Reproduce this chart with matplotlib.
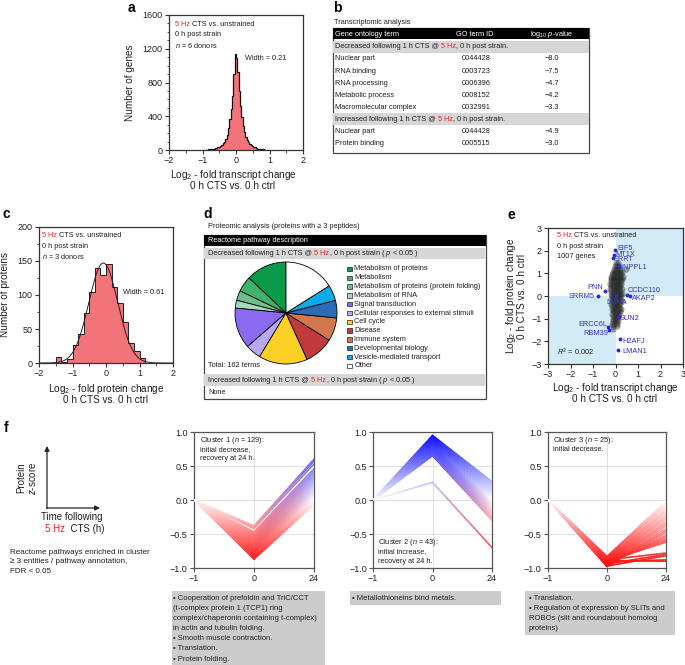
import numpy as np
import matplotlib.pyplot as plt
from matplotlib.collections import LineCollection
from matplotlib.patches import Rectangle
from matplotlib.ticker import MultipleLocator

plt.rcParams['font.family'] = ['Liberation Sans', 'DejaVu Sans']
plt.rcParams['mathtext.fontset'] = 'custom'
plt.rcParams['mathtext.rm'] = 'Liberation Sans'
plt.rcParams['mathtext.it'] = 'Liberation Sans:italic'
plt.rcParams['mathtext.bf'] = 'Liberation Sans:bold'

# ---------------- data ----------------
# a: transcript fold change histogram (bins of 0.04 from -1 to 1)
a_counts = [3, 3, 4, 5, 6, 7, 9, 11, 14, 18,
            24, 32, 40, 50, 62, 78, 100, 130, 180, 260,
            370, 490, 640, 900, 1140, 1090, 920, 700, 520, 390,
            290, 210, 160, 120, 95, 75, 60, 48, 38, 30,
            22, 17, 13, 10, 8, 6, 5, 4, 3, 3]

# b: GO terms
go_terms_dec = ['Nuclear part', 'RNA binding', 'RNA processing', 'Metabolic process', 'Macromolecular complex']
go_ids_dec = ['0044428', '0003723', '0006396', '0008152', '0032991']
go_p_dec = [-8.0, -7.5, -4.7, -4.2, -3.3]
go_terms_inc = ['Nuclear part', 'Protein binding']
go_ids_inc = ['0044428', '0005515']
go_p_inc = [-4.9, -3.0]

# c: protein fold change histogram (bins of 1/6 from -1.5)
c_counts = [9, 2, 6, 26, 42, 73, 105, 139, 129, 146, 112, 88, 60, 30, 18, 7]
c_fit_amp = 147
c_fit_mu = -0.08
c_fit_width = 0.61

# d: reactome pie
pie_labels = ['Metabolism of proteins', 'Metabolism', 'Metabolism of proteins (protein folding)',
              'Metabolism of RNA', 'Signal transduction', 'Cellular responses to external stimuli',
              'Cell cycle', 'Disease', 'Immune system', 'Developmental biology',
              'Vesicle-mediated transport', 'Other']
pie_counts = [21, 8, 5, 4, 21, 8, 25, 15, 12, 9, 8, 26]
pie_colors = ['#0a9a4a', '#3db36c', '#6cc08c', '#a3dbb8', '#8a6af0', '#b8a8f2',
              '#fdd026', '#c23a3b', '#d2784c', '#2a6cb5', '#0caae6', '#ffffff']

# e: protein vs transcript scatter (cloud of genes, rows by protein change)
cloud_row_y = [1.45, 1.32, 1.20, 1.08, 0.97, 0.86, 0.75, 0.64, 0.53, 0.42, 0.31, 0.20, 0.09,
               -0.02, -0.13, -0.24, -0.35, -0.46, -0.57, -0.68, -0.79, -0.90, -1.01, -1.12,
               -1.23, -1.34, -1.45]
cloud_row_x = [[0.02, 0.10],
               [-0.04, 0.06, 0.15],
               [-0.08, 0.03, 0.12, 0.22, 0.46],
               [-0.12, -0.02, 0.08, 0.18, 0.30],
               [-0.16, -0.06, 0.04, 0.14, 0.24],
               [-0.18, -0.09, 0.01, 0.11, 0.21, 0.32],
               [-0.22, -0.12, -0.02, 0.08, 0.18, 0.27],
               [-0.19, -0.08, 0.03, 0.13, 0.23],
               [-0.24, -0.14, -0.04, 0.06, 0.16, 0.26],
               [-0.20, -0.10, 0.00, 0.10, 0.20],
               [-0.23, -0.13, -0.03, 0.07, 0.17, 0.28],
               [-0.18, -0.08, 0.02, 0.12, 0.22],
               [-0.21, -0.11, -0.01, 0.09, 0.19, 0.30],
               [-0.17, -0.06, 0.05, 0.15, 0.25],
               [-0.20, -0.10, 0.00, 0.10, 0.20],
               [-0.15, -0.05, 0.06, 0.16, 0.27],
               [-0.18, -0.08, 0.02, 0.12, 0.22],
               [-0.14, -0.04, 0.07, 0.17],
               [-0.16, -0.06, 0.04, 0.14, 0.24],
               [-0.12, -0.02, 0.09, 0.19],
               [-0.14, -0.04, 0.06, 0.16],
               [-0.10, 0.00, 0.10],
               [-0.13, -0.03, 0.07],
               [-0.09, 0.02, 0.13],
               [-0.16, -0.05, 0.06],
               [-0.12, 0.08],
               [-0.10]]
lab_genes = ['EIF5', 'MT1X', 'SRRT', 'INPPL1', 'PNN', 'SRRM5', 'CCDC110', 'AKAP2', 'LMNA',
             'SUN2', 'ERCC6L', 'RBM39', 'H2AFJ', 'LMAN1']
lab_x = [-0.02, -0.08, -0.12, 0.16, -0.48, -0.79, 0.52, 0.64, 0.04, 0.14, -0.32, -0.28, 0.20, 0.10]
lab_y = [2.03, 1.81, 1.66, 1.34, 0.22, 0.00, 0.04, -0.02, 0.00, -0.91, -1.35, -1.50, -1.91, -2.37]

# f: z-score clusters, values at 0 h and 24 h (all start at 0 at -1 h)
time_labels = ['\u22121', '0', '24']
c1_v0 = [-0.38, -0.40, -0.42, -0.47, -0.48, -0.49, -0.50, -0.51, -0.52, -0.53, -0.54, -0.55,
         -0.56, -0.57, -0.58, -0.59, -0.60, -0.61, -0.62, -0.63, -0.64, -0.65, -0.66, -0.67,
         -0.68, -0.69, -0.70, -0.71, -0.72, -0.73, -0.74, -0.75, -0.76, -0.77, -0.78, -0.79,
         -0.80, -0.81, -0.82, -0.83, -0.84, -0.85, -0.86, -0.87]
c1_v24 = [0.60, 0.57, 0.53, 0.46, 0.45, 0.43, 0.42, 0.40, 0.39, 0.37, 0.36, 0.34,
          0.33, 0.31, 0.30, 0.28, 0.27, 0.25, 0.24, 0.22, 0.21, 0.19, 0.18, 0.16,
          0.15, 0.13, 0.12, 0.10, 0.09, 0.07, 0.06, 0.05, 0.04, 0.02, 0.01, 0.00,
          -0.01, -0.02, -0.03, -0.04, -0.05, -0.06, -0.06, -0.07]
c2_v0 = [0.95, 0.94, 0.93, 0.92, 0.91, 0.90, 0.89, 0.88, 0.87, 0.86, 0.85, 0.84, 0.83, 0.82,
         0.81, 0.80, 0.79, 0.78, 0.77, 0.76, 0.75, 0.74, 0.73, 0.72, 0.71, 0.70, 0.69, 0.68,
         0.67, 0.66, 0.65, 0.26]
c2_v24 = [0.27, 0.25, 0.23, 0.21, 0.19, 0.17, 0.15, 0.13, 0.11, 0.09, 0.07, 0.05, 0.03, 0.01,
          -0.01, -0.03, -0.05, -0.07, -0.09, -0.11, -0.13, -0.15, -0.17, -0.19, -0.21, -0.22,
          -0.24, -0.25, -0.27, -0.28, -0.30, -0.70]
c3_v0 = [-0.83, -0.85, -0.86, -0.88, -0.89, -0.90, -0.91, -0.92, -0.93, -0.94, -0.95, -0.96,
         -0.97, -0.98, -0.96, -0.95, -0.93, -0.92, -0.90, -0.88, -0.94, -0.97, -0.91, -0.89, -0.86]
c3_v24 = [-0.02, -0.05, -0.08, -0.12, -0.15, -0.18, -0.22, -0.25, -0.28, -0.32, -0.35, -0.38,
          -0.42, -0.45, -0.48, -0.52, -0.55, -0.58, -0.62, -0.78, -0.80, -0.82, -0.88, -0.90, -0.60]

c1_paths = ['\u2022 Cooperation of prefoldin and TriC/CCT', '(t-complex protein 1 (TCP1) ring',
            'complex/chaperonin containing t-complex)', 'in actin and tubulin folding.',
            '\u2022 Smooth muscle contraction.', '\u2022 Translation.', '\u2022 Protein folding.']
c2_paths = ['\u2022 Metallothioneins bind metals.']
c3_paths = ['\u2022 Translation.', '\u2022 Regulation of expression by SLITs and',
            'ROBOs (slit and roundabout homolog', 'proteins)']

# ---------------- figure ----------------
W, H = 685, 665
DARK = '#231f20'
HZ = '#ec2227'
HIST = '#f2737a'
LBLUE = '#d3ebf7'
GRAY = '#d6d6d6'

fig = plt.figure(figsize=(W / 100, H / 100), dpi=100)
cv = fig.add_axes([0, 0, 1, 1])
cv.set_xlim(0, W)
cv.set_ylim(H, 0)
cv.axis('off')
cv.set_zorder(10)
cv.patch.set_visible(False)


def px_axes(x0, y0, x1, y1):
    return fig.add_axes([x0 / W, 1 - y1 / H, (x1 - x0) / W, (y1 - y0) / H])


def style(ax, spine='#333333'):
    for s in ax.spines.values():
        s.set_linewidth(0.9)
        s.set_color(spine)
    ax.tick_params(direction='out', length=3, width=0.8, labelsize=6.5, pad=1.5,
                   color=spine, labelcolor=DARK)
    ax.tick_params(which='minor', direction='out', length=1.8, width=0.6, color=spine)


def txt(x, y, s, fs=5.3, **kw):
    kw.setdefault('va', 'center')
    kw.setdefault('color', DARK)
    return cv.text(x, y, s, fontsize=fs, **kw)


def rich(x, y, parts, fs=5.3):
    prev = cv.text(x, y, parts[0][0], color=parts[0][1], fontsize=fs, va='center')
    for s, c in parts[1:]:
        prev = cv.annotate(s, xy=(1, 0.5), xycoords=prev, color=c, fontsize=fs,
                           va='center', ha='left')
    return prev


def rect(x0, y0, x1, y1, **kw):
    cv.add_patch(Rectangle((x0, y0), x1 - x0, y1 - y0, **kw))


def minus(v):
    return f'{v:.1f}'.replace('-', '\u2212')


# panel letters
for letter, x, y in [('a', 128, 8), ('b', 333, 8), ('c', 3, 214), ('d', 203, 214),
                     ('e', 508, 215), ('f', 4, 428)]:
    txt(x, y, letter, fs=10, weight='bold', color='black')

# ---------------- a ----------------
ax = px_axes(169, 15, 303, 150)
edges = np.linspace(-1, 1, len(a_counts) + 1)
ax.stairs(a_counts, edges, fill=True, color=HIST, lw=0)
ax.stairs(a_counts, edges, color='#111111', lw=0.9)
ax.set_xlim(-2, 2)
ax.set_ylim(0, 1600)
ax.set_xticks([-2, -1, 0, 1, 2])
ax.set_yticks([0, 400, 800, 1200, 1600])
ax.xaxis.set_minor_locator(MultipleLocator(0.5))
ax.yaxis.set_minor_locator(MultipleLocator(100))
style(ax)
rich(175, 24, [('5 Hz', HZ), (' CTS vs. unstrained', DARK)])
txt(175, 34.5, '0 h post strain')
txt(175, 45, '$n$ = 6 donors')
txt(245, 58, 'Width = 0.21')
txt(130, 83, 'Number of genes', fs=7.2, rotation=90, ha='center')
txt(233, 175, 'Log$_2$ - fold transcript change', fs=7.2, ha='center')
txt(233, 186, '0 h CTS vs. 0 h ctrl', fs=7.2, ha='center')

# ---------------- b ----------------
txt(334, 22.5, 'Transcriptomic analysis')
rect(333, 28.3, 589.3, 153.3, facecolor='none', edgecolor='#444444', lw=0.9)
rect(333, 28.3, 589.3, 39.5, facecolor='black', lw=0)
txt(335.5, 34, 'Gene ontology term', color='white')
txt(456, 34, 'GO term ID', color='white')
txt(530, 34, 'log$_{10}$ $p$-value', color='white')
for y, word in [(46.7, 'Decreased'), (119.3, 'Increased')]:
    rect(333.5, y - 6, 588.8, y + 6, facecolor=GRAY, lw=0)
    rich(335.5, y, [(word + ' following 1 h CTS @ ', DARK), ('5 Hz', HZ),
                    (', 0 h post strain.', DARK)])
row_y = 59
for term, gid, p in zip(go_terms_dec, go_ids_dec, go_p_dec):
    txt(335.5, row_y, term)
    txt(461.5, row_y, gid)
    txt(559.5, row_y, minus(p), ha='right')
    row_y += 12.1
row_y = 131.7
for term, gid, p in zip(go_terms_inc, go_ids_inc, go_p_inc):
    txt(335.5, row_y, term)
    txt(461.5, row_y, gid)
    txt(559.5, row_y, minus(p), ha='right')
    row_y += 12.1

# ---------------- c ----------------
ax = px_axes(39, 227, 173, 363)
edges = np.linspace(-1.5, -1.5 + len(c_counts) / 6, len(c_counts) + 1)
ax.stairs(c_counts, edges, fill=True, color=HIST, lw=0)
ax.stairs(c_counts, edges, color='#222222', lw=0.7)
xf = np.linspace(-2, 2, 400)
ax.plot(xf, c_fit_amp * np.exp(-((xf - c_fit_mu) / c_fit_width) ** 2), color='#222222', lw=0.7)
ax.set_xlim(-2, 2)
ax.set_ylim(0, 200)
ax.set_xticks([-2, -1, 0, 1, 2])
ax.set_yticks([0, 50, 100, 150, 200])
ax.xaxis.set_minor_locator(MultipleLocator(0.5))
ax.yaxis.set_minor_locator(MultipleLocator(25))
style(ax)
rich(42.5, 235.3, [('5 Hz', HZ), (' CTS vs. unstrained', DARK)])
txt(42.5, 246, '0 h post strain')
txt(42.5, 256.7, '$n$ = 3 donors')
txt(123, 293, 'Width = 0.61')
txt(5, 295, 'Number of proteins', fs=7.2, rotation=90, ha='center')
txt(106, 389, 'Log$_2$ - fold protein change', fs=7.2, ha='center')
txt(106, 400, '0 h CTS vs. 0 h ctrl', fs=7.2, ha='center')

# ---------------- d ----------------
txt(208, 226, 'Proteomic analysis (proteins with \u2265 3 peptides)')
rect(204, 234.5, 486, 399.3, facecolor='none', edgecolor='#444444', lw=0.9)
rect(204, 234.5, 486, 245.7, facecolor='black', lw=0)
txt(208, 240.3, 'Reactome pathway description', color='white')
rect(204.5, 247.5, 485.5, 259.2, facecolor=GRAY, lw=0)
rich(208, 253.4, [('Decreased following 1 h CTS @ ', DARK), ('5 Hz', HZ),
                  (', 0 h post strain ( $p$ < 0.05 )', DARK)])
rect(204.5, 374, 485.5, 385.7, facecolor=GRAY, lw=0)
rich(208, 380, [('Increased following 1 h CTS @ ', DARK), ('5 Hz', HZ),
                (', 0 h post strain ( $p$ < 0.05 )', DARK)])
txt(208, 392, 'None')
txt(208, 365.7, 'Total: 162 terms')

pax = px_axes(234, 261, 338, 365)
pax.pie(pie_counts, colors=pie_colors, startangle=90, counterclock=True, radius=1,
        wedgeprops=dict(edgecolor='black', linewidth=0.6))
pax.set_xlim(-1.02, 1.02)
pax.set_ylim(-1.02, 1.02)
pax.set_aspect('equal')
pax.patch.set_visible(False)

ly = 269
for lab, col in zip(pie_labels, pie_colors):
    rect(347.3, ly - 2.2, 351.7, ly + 2.2, facecolor=col, edgecolor='#222222', lw=0.5)
    txt(354.5, ly, lab)
    ly += 8.8

# ---------------- e ----------------
ax = px_axes(548, 228, 683, 364)
ax.add_patch(Rectangle((0, 0), 3, 3, facecolor=LBLUE, lw=0, zorder=0))
ax.add_patch(Rectangle((-3, -3), 3, 3, facecolor=LBLUE, lw=0, zorder=0))
cloud_x = [x for row in cloud_row_x for x in row]
cloud_y = [y for y, row in zip(cloud_row_y, cloud_row_x) for _ in row]
ax.scatter(cloud_x, cloud_y, s=20, color='#262626', alpha=0.42, lw=0, zorder=2)
ax.scatter(lab_x, lab_y, s=8, color='#2b2bd6', lw=0, zorder=3)
label_pos = [(0.08, 2.1, 'left'), (0.0, 1.85, 'left'), (-0.07, 1.6, 'left'),
             (0.27, 1.25, 'left'), (-0.57, 0.38, 'right'), (-0.91, 0.0, 'right'),
             (0.56, 0.25, 'left'), (0.72, -0.13, 'left'), (0.06, -0.28, 'center'),
             (0.2, -0.98, 'left'), (-0.36, -1.25, 'right'), (-0.32, -1.66, 'right'),
             (0.32, -2.0, 'left'), (0.32, -2.43, 'left')]
for gene, (tx, ty, ha) in zip(lab_genes, label_pos):
    ax.text(tx, ty, gene, fontsize=5.3, color='#3333cc', ha=ha, va='center', zorder=4)
ax.set_xlim(-3, 3)
ax.set_ylim(-3, 3)
ax.set_xticks(range(-3, 4))
ax.set_yticks(range(-3, 4))
style(ax)
rich(557.3, 235.7, [('5 Hz', HZ), (' CTS vs. unstrained', DARK)])
txt(557.3, 246.3, '0 h post strain')
txt(557.3, 257, '1007 genes')
txt(556.7, 352.3, '$R^2$ = 0.002')
txt(510.7, 296, 'Log$_2$ - fold protein change', fs=7.2, rotation=90, ha='center')
txt(521.7, 296, '0 h CTS vs. 0 h ctrl', fs=7.2, rotation=90, ha='center')
txt(615, 388, 'Log$_2$ - fold transcript change', fs=7.2, ha='center')
txt(615, 399, '0 h CTS vs. 0 h ctrl', fs=7.2, ha='center')

# ---------------- f ----------------
cv.annotate('', xy=(47, 446), xytext=(47, 508.5),
            arrowprops=dict(arrowstyle='-|>', lw=0.9, color='#222222', mutation_scale=7,
                            shrinkA=0, shrinkB=0))
cv.annotate('', xy=(100, 508), xytext=(46.5, 508),
            arrowprops=dict(arrowstyle='-|>', lw=0.9, color='#222222', mutation_scale=7,
                            shrinkA=0, shrinkB=0))
txt(21, 478, 'Protein', fs=7, rotation=90, ha='center')
txt(33, 478, '$z$-score', fs=7, rotation=90, ha='center')
txt(72, 517.5, 'Time following', fs=7, ha='center')
rich(45, 528.5, [('5 Hz', HZ), ('  CTS (h)', DARK)], fs=7)
txt(10, 552, 'Reactome pathways enriched in cluster', fs=5.8)
txt(10, 561.7, '\u2265 3 entities / pathway annotation,', fs=5.8)
txt(10, 571.3, 'FDR < 0.05', fs=5.8)

cmap = plt.get_cmap('bwr_r')


def gradient_lines(ax, v0, v24):
    segs, cols = [], []
    nstep = 20
    for a, b in zip(v0, v24):
        xs, ys = [0, 1, 2], [0.0, a, b]
        for i in range(2):
            c0 = np.array(cmap((ys[i] + 1) / 2))
            c1 = np.array(cmap((ys[i + 1] + 1) / 2))
            for k in range(nstep):
                t0, t1 = k / nstep, (k + 1) / nstep
                segs.append([(xs[i] + t0, ys[i] + (ys[i + 1] - ys[i]) * t0),
                             (xs[i] + t1, ys[i] + (ys[i + 1] - ys[i]) * t1)])
                cols.append(c0 + (c1 - c0) * (k + 0.5) / nstep)
    ax.add_collection(LineCollection(segs, colors=cols, linewidths=1.1, capstyle='round',
                                     zorder=3))


clusters = [((194, 314), c1_v0, c1_v24), ((373, 492), c2_v0, c2_v24), ((548, 666), c3_v0, c3_v24)]
for (x0, x1), v0, v24 in clusters:
    ax = px_axes(x0, 432, x1, 568)
    gradient_lines(ax, v0, v24)
    ax.set_xlim(0, 2)
    ax.set_ylim(-1, 1)
    ax.set_xticks([0, 1, 2])
    ax.set_xticklabels(time_labels)
    ax.set_yticks([-1, -0.5, 0, 0.5, 1])
    ax.set_yticklabels(['\u22121.0', '\u22120.5', '0.0', '0.5', '1.0'])
    ax.grid(True, color='#e2e2e2', lw=0.8)
    ax.set_axisbelow(True)
    style(ax, spine='#555555')

for i, s in enumerate(['Cluster 1 ($n$ = 129):', 'initial decrease,', 'recovery at 24 h.']):
    txt(200, 440 + 9.5 * i, s)
for i, s in enumerate(['Cluster 2 ($n$ = 43):', 'initial increase,', 'recovery at 24 h.']):
    txt(378.3, 542.3 + 9.5 * i, s)
for i, s in enumerate(['Cluster 3 ($n$ = 25):', 'initial decrease.']):
    txt(553.3, 440 + 9.8 * i, s)

for (bx0, bx1, by1, tx), lines in [((172, 325, 666, 173.5), c1_paths),
                                    ((350, 501, 605, 352), c2_paths),
                                    ((525, 675, 635, 529), c3_paths)]:
    rect(bx0, 591, bx1, by1, facecolor='#cccccc', lw=0)
    for i, s in enumerate(lines):
        txt(tx, 598 + 10.2 * i, s, fs=5.5)

fig.savefig('out.png', dpi=100)
